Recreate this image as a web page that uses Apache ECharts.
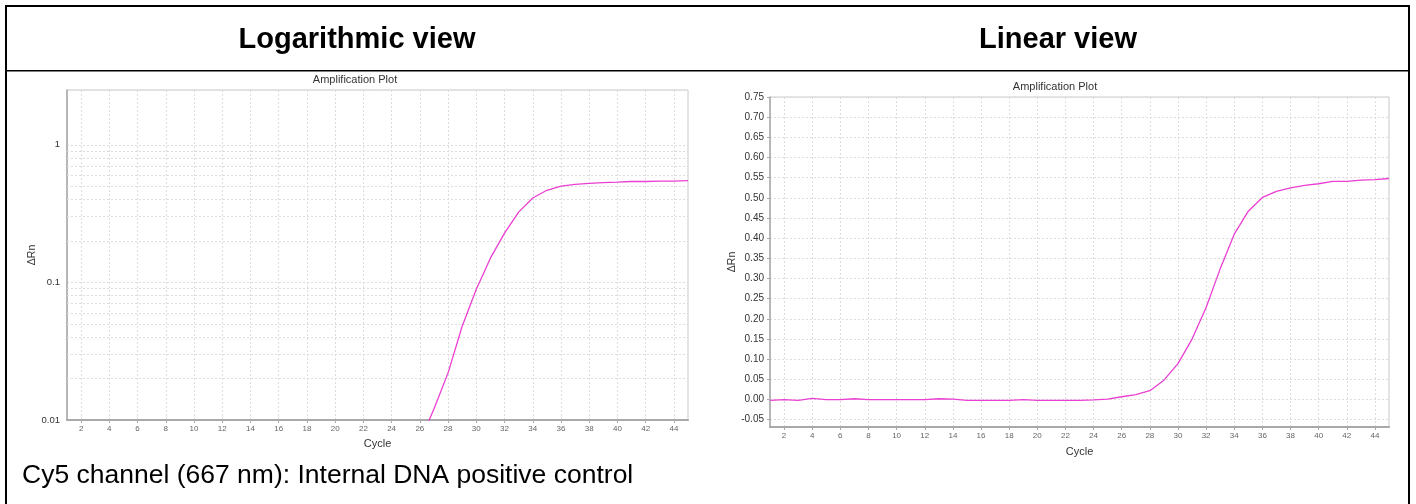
<!DOCTYPE html>
<html>
<head>
<meta charset="utf-8">
<script src="https://cdn.jsdelivr.net/npm/echarts@6/dist/echarts.min.js"></script>
<style>
  html, body { margin: 0; padding: 0; background: #ffffff; }
  #chart { width: 1416px; height: 504px; }
</style>
</head>
<body>
<div id="chart"></div>
<script>
// ---- data ----
const cycles = [1,2,3,4,5,6,7,8,9,10,11,12,13,14,15,16,17,18,19,20,21,22,23,24,25,26,27,28,29,30,31,32,33,34,35,36,37,38,39,40,41,42,43,44,45];
const deltaRn = [-0.002, 0.000, -0.002, 0.003, 0.000, 0.000, 0.002, 0.000, 0.000, 0.000,
                 0.000, 0.000, 0.002, 0.001, -0.002, -0.002, -0.002, -0.002, 0.000, -0.002,
                 -0.002, -0.002, -0.002, -0.001, 0.001, 0.007, 0.012, 0.022, 0.048, 0.089,
                 0.150, 0.228, 0.324, 0.410, 0.467, 0.501, 0.516, 0.525, 0.531, 0.535,
                 0.541, 0.541, 0.544, 0.545, 0.548];
const linearTickLabels = [-0.05, 0.00, 0.05, 0.10, 0.15, 0.20, 0.25, 0.30, 0.35, 0.40, 0.45, 0.50, 0.55, 0.60, 0.65, 0.70, 0.75];
const logTickLabels = [0.01, 0.1, 1];
const logMinorGrid = [0.02, 0.03, 0.04, 0.05, 0.06, 0.07, 0.08, 0.09, 0.2, 0.3, 0.4, 0.5, 0.6, 0.7, 0.8, 0.9];
const headers = ['Logarithmic view', 'Linear view'];
const plotTitle = 'Amplification Plot';
const caption = 'Cy5 channel (667 nm): Internal DNA positive control';

// ---- styling ----
const FONT = 'Liberation Sans, Arial, sans-serif';
const LINE_COLOR = '#ea3fd2';
const GRID_COLOR = '#dcdcdc';
const evenCycle = (idx) => cycles[idx] % 2 === 0;

const logData = deltaRn.map(v => (v > 0 ? v : null));

const chart = echarts.init(document.getElementById('chart'), null, { renderer: 'canvas' });

function xAxisFor(gridIndex, margin, nameGap) {
  return {
    type: 'category',
    gridIndex: gridIndex,
    data: cycles,
    boundaryGap: false,
    name: 'Cycle',
    nameLocation: 'middle',
    nameGap: nameGap,
    nameTextStyle: { fontFamily: FONT, fontSize: 11, color: '#333' },
    axisLine: { show: true, onZero: false, lineStyle: { color: '#a9a9a9', width: 2 } },
    axisTick: { show: true, length: 3, interval: evenCycle, lineStyle: { color: '#aaa' } },
    axisLabel: { show: true, interval: evenCycle, fontFamily: FONT, fontSize: 8, color: '#666', margin: margin },
    splitLine: { show: true, interval: evenCycle, lineStyle: { color: GRID_COLOR, type: [2, 2], width: 1 } }
  };
}

const option = {
  animation: false,
  backgroundColor: '#ffffff',
  textStyle: { fontFamily: FONT },
  grid: [
    { left: 67, top: 90, width: 621, height: 330, show: true, borderColor: '#c8c8c8', borderWidth: 1, backgroundColor: '#ffffff', containLabel: false },
    { left: 770, top: 97, width: 619, height: 330, show: true, borderColor: '#c8c8c8', borderWidth: 1, backgroundColor: '#ffffff', containLabel: false }
  ],
  xAxis: [ xAxisFor(0, 5, 18), xAxisFor(1, 5, 19) ],
  yAxis: [
    {
      type: 'log',
      gridIndex: 0,
      logBase: 10,
      min: 0.01,
      max: 2.5,
      name: 'ΔRn',
      nameLocation: 'middle',
      nameRotate: 90,
      nameGap: 28,
      nameTextStyle: { fontFamily: FONT, fontSize: 10.5, color: '#333' },
      axisLine: { show: true, onZero: false, lineStyle: { color: '#a9a9a9', width: 1.5 } },
      axisTick: { show: false },
      axisLabel: {
        fontFamily: FONT, fontSize: 9.5, color: '#333', margin: 7,
        formatter: function (v) {
          for (const t of logTickLabels) {
            if (Math.abs(v - t) / t < 1e-6) return String(t);
          }
          return '';
        }
      },
      splitLine: { show: true, lineStyle: { color: GRID_COLOR, type: [2, 2], width: 1 } }
    },
    {
      type: 'value',
      gridIndex: 1,
      min: -0.068,
      max: 0.75,
      name: 'ΔRn',
      nameLocation: 'middle',
      nameRotate: 90,
      nameGap: 31,
      nameTextStyle: { fontFamily: FONT, fontSize: 10.5, color: '#333' },
      axisLine: { show: true, onZero: false, lineStyle: { color: '#a9a9a9', width: 1.5 } },
      axisTick: { show: true, length: 3, customValues: linearTickLabels, lineStyle: { color: '#aaa' } },
      axisLabel: {
        fontFamily: FONT, fontSize: 10, color: '#333', margin: 6,
        customValues: linearTickLabels,
        formatter: function (v) { return v.toFixed(2); }
      },
      splitLine: { show: true, lineStyle: { color: GRID_COLOR, type: [2, 2], width: 1 } }
    }
  ],
  series: [
    {
      type: 'line',
      xAxisIndex: 0,
      yAxisIndex: 0,
      data: logData,
      showSymbol: false,
      symbol: 'none',
      clip: true,
      connectNulls: false,
      lineStyle: { color: LINE_COLOR, width: 1.3 },
      z: 5,
      markLine: {
        silent: true,
        symbol: 'none',
        label: { show: false },
        lineStyle: { color: GRID_COLOR, type: [2, 2], width: 1 },
        data: logMinorGrid.map(v => ({ yAxis: v }))
      }
    },
    {
      type: 'line',
      xAxisIndex: 1,
      yAxisIndex: 1,
      data: deltaRn,
      showSymbol: false,
      symbol: 'none',
      clip: true,
      lineStyle: { color: LINE_COLOR, width: 1.3 },
      z: 5
    }
  ],
  graphic: [
    // table borders
    { type: 'rect', shape: { x: 5, y: 5, width: 1405, height: 2 }, style: { fill: '#000' }, silent: true },
    { type: 'rect', shape: { x: 5, y: 5, width: 2, height: 499 }, style: { fill: '#000' }, silent: true },
    { type: 'rect', shape: { x: 1408, y: 5, width: 2, height: 499 }, style: { fill: '#000' }, silent: true },
    { type: 'rect', shape: { x: 5, y: 70, width: 1405, height: 1.5 }, style: { fill: '#000' }, silent: true },
    // header texts
    { type: 'text', x: 357, y: 40, style: { text: headers[0], font: 'bold 29px ' + FONT, fill: '#000', align: 'center', verticalAlign: 'middle' }, silent: true },
    { type: 'text', x: 1058, y: 40, style: { text: headers[1], font: 'bold 29px ' + FONT, fill: '#000', align: 'center', verticalAlign: 'middle' }, silent: true },
    // plot titles
    { type: 'text', x: 355, y: 80, style: { text: plotTitle, font: '11px ' + FONT, fill: '#333', align: 'center', verticalAlign: 'middle' }, silent: true },
    { type: 'text', x: 1055, y: 87, style: { text: plotTitle, font: '11px ' + FONT, fill: '#333', align: 'center', verticalAlign: 'middle' }, silent: true },
    // caption
    { type: 'text', x: 22, y: 476, style: { text: caption, font: '26.5px ' + FONT, fill: '#000', align: 'left', verticalAlign: 'middle' }, silent: true }
  ]
};

chart.setOption(option);
</script>
</body>
</html>
